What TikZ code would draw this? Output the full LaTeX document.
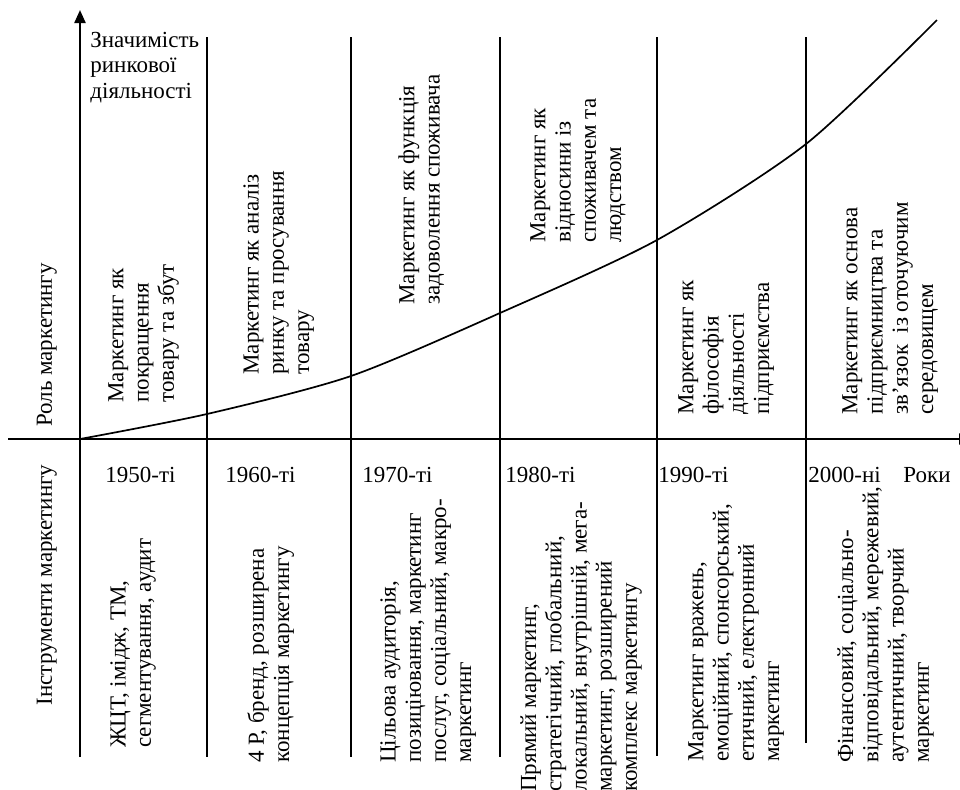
\documentclass[tikz,border=0pt]{standalone}
\usepackage{fontspec}
\setmainfont{Liberation Serif}
\newfontfamily\tnr{Liberation Serif}
\usetikzlibrary{arrows.meta}
\tikzset{
  >={Triangle[length=6.5pt,width=5.5pt]},
  axis/.style={line width=1.1pt},
  era/.style={line width=0.85pt},
  curve/.style={line width=0.85pt},
  lbl/.style={font=\tnr\fontsize{11.5}{12.6}\selectfont,inner sep=0pt},
  vtxt/.style={lbl,rotate=90,align=left,anchor=north west},
  yr/.style={lbl,anchor=base west},
}
\newcommand{\vtext}[3]{\node[vtxt] (#1) at (#2) {#3};}

\begin{document}
\begin{tikzpicture}[x=0.5pt,y=-0.5pt]
  \useasboundingbox (0,0) rectangle (960,789);
  % axes
  \coordinate (o) at (80,439);
  \coordinate (ytop) at (80,10);
  \coordinate (ybot) at (80,757);
  \coordinate (xl) at (8,439);
  \coordinate (xr) at (972,439);
  \draw[axis,->] (ybot) -- (ytop);
  \draw[axis,->] (xl) -- (xr);
  % era borders
  \foreach \n/\x/\b in {d1/207/757,d2/351/757,d3/500/757,d4/657/756,d5/806/743}{
    \coordinate (\n t) at (\x,37);
    \coordinate (\n b) at (\x,\b);
    \draw[era] (\n t) -- (\n b);
  }
  % role curve
  \coordinate (p1) at (207,414);
  \coordinate (p2) at (351,376);
  \coordinate (p3) at (500,313);
  \coordinate (p4) at (657,240);
  \coordinate (p5) at (806,144);
  \coordinate (pe) at (937,20);
  \draw[curve] plot[smooth,tension=0.45] coordinates {(o) (p1) (p2) (p3) (p4) (p5) (pe)};
  % labels
  \node[lbl,align=left,anchor=north west] (sig) at (90,32) {Значимість\\ринкової\\діяльності};
  \node[lbl,rotate=90,anchor=base] (role) at (52,345) {Роль маркетингу};
  \node[lbl,rotate=90,anchor=base] (tools) at (52,585) {Інструменти маркетингу};
  % roles
  \vtext{r1}{108,403}{Маркетинг як\\покращення\\товару та збут}
  \vtext{r2}{243,375}{Маркетинг як аналіз\\ринку та просування\\товару}
  \vtext{r3}{398,305}{Маркетинг як функція\\задоволення споживача}
  \vtext{r4}{530,243}{Маркетинг як\\відносини із\\споживачем та\\людством}
  \vtext{r5}{678,415}{Маркетинг як\\філософія\\діяльності\\підприємства}
  \vtext{r6}{842,415}{Маркетинг як основа\\підприємництва та\\зв’язок\ \ із оточуючим\\середовищем}
  % years
  \node[yr] (y1) at (105,482) {1950-ті};
  \node[yr] (y2) at (225,482) {1960-ті};
  \node[yr] (y3) at (362,482) {1970-ті};
  \node[yr] (y4) at (505,482) {1980-ті};
  \node[yr] (y5) at (658,482) {1990-ті};
  \node[yr] (y6) at (808,482) {2000-ні};
  \node[yr] (yrs) at (903,482) {Роки};
  % tools
  \vtext{t1}{110,748}{ЖЦТ, імідж, ТМ,\\сегментування, аудит}
  \vtext{t2}{247,763}{4 Р, бренд, розширена\\концепція маркетингу}
  \vtext{t3}{380,763}{Цільова аудиторія,\\позиціювання, маркетинг\\послуг, соціальний, макро-\\маркетинг}
  \vtext{t4}{520,792}{Прямий маркетинг,\\стратегічний, глобальний,\\локальний, внутрішній, мега-\\маркетинг, розширений\\комплекс маркетингу}
  \vtext{t5}{688,762}{Маркетинг вражень,\\емоційний, спонсорський,\\етичний, електронний\\маркетинг}
  \vtext{t6}{837,763}{Фінансовий, соціально-\\відповідальний, мережевий,\\аутентичний, творчий\\маркетинг}
\end{tikzpicture}
\end{document}
